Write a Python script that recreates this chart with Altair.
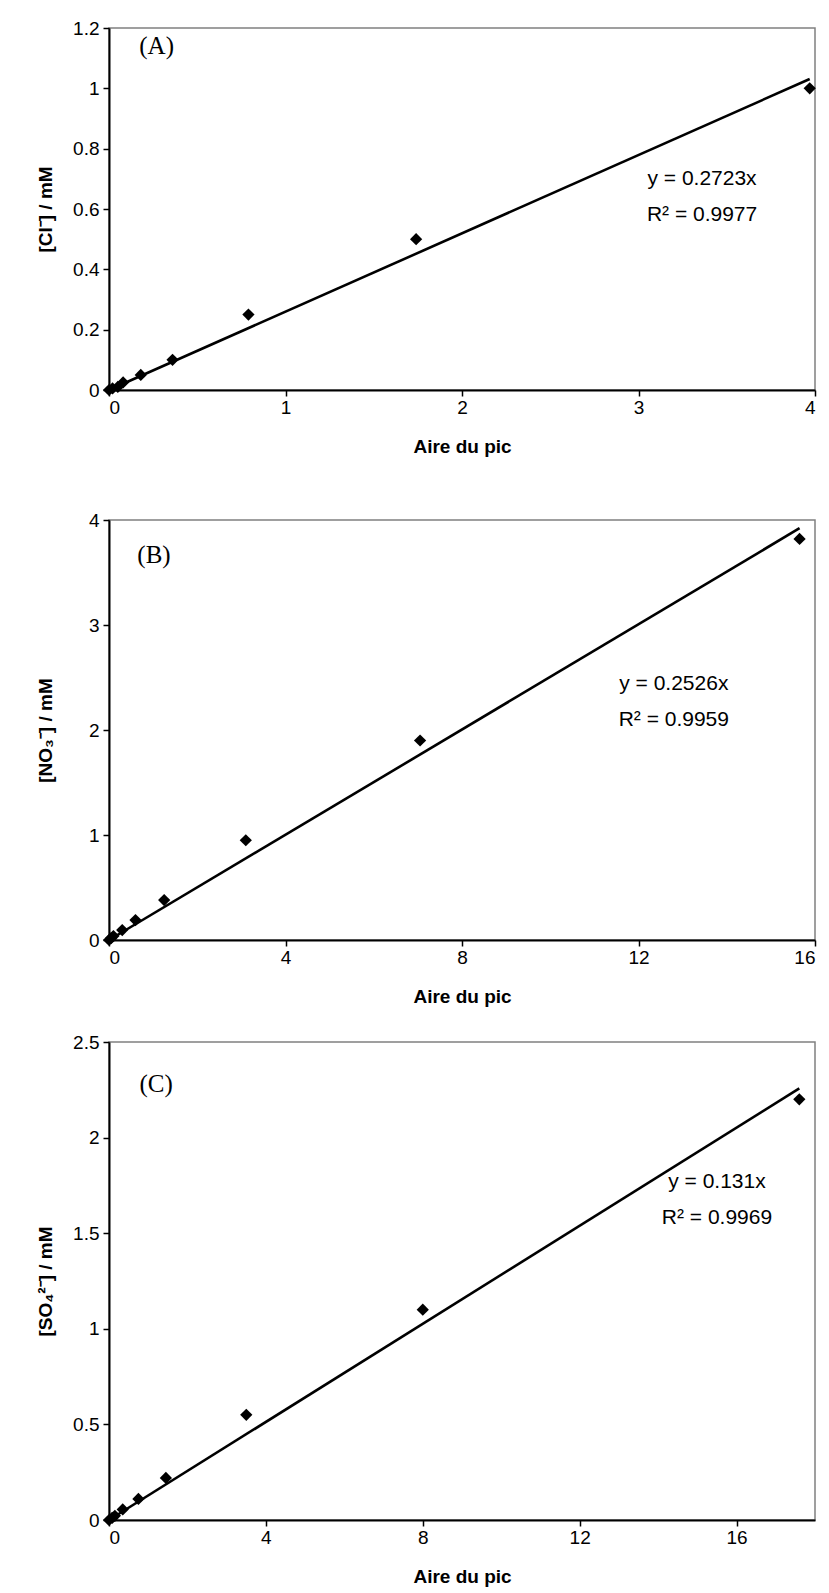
import altair as alt
import pandas as pd
import numpy as np

# ---- data ----
a_x = [0, 0.02, 0.05, 0.08, 0.18, 0.36, 0.79, 1.74, 3.97]
a_y = [0, 0.005, 0.01, 0.025, 0.05, 0.10, 0.25, 0.50, 1.00]
b_x = [0, 0.05, 0.10, 0.30, 0.60, 1.25, 3.10, 7.05, 15.65]
b_y = [0, 0.019, 0.038, 0.095, 0.19, 0.38, 0.95, 1.90, 3.82]
c_x = [0, 0.08, 0.15, 0.35, 0.75, 1.45, 3.50, 8.00, 17.60]
c_y = [0, 0.011, 0.022, 0.055, 0.11, 0.22, 0.55, 1.10, 2.20]

a_xticks = [0, 1, 2, 3, 4]
a_yticks = [0, 0.2, 0.4, 0.6, 0.8, 1.0, 1.2]
b_xticks = [0, 4, 8, 12, 16]
b_yticks = [0, 1, 2, 3, 4]
c_xticks = [0, 4, 8, 12, 16]
c_yticks = [0, 0.5, 1, 1.5, 2, 2.5]

titles_y = ["[Cl\u207b] / mM", "[NO\u2083\u207b] / mM", "[SO\u2084\u00b2\u207b] / mM"]
panel_labels = ["(A)", "(B)", "(C)"]
eq_lines = [["y = 0.2723x", "R\u00b2 = 0.9977"],
            ["y = 0.2526x", "R\u00b2 = 0.9959"],
            ["y = 0.131x", "R\u00b2 = 0.9969"]]
# annotation anchors in data units
label_pos = [(0.27, 1.14), (1.02, 3.67), (1.2, 2.28)]
eq_pos = [(3.36, 0.70, 0.58), (12.8, 2.44, 2.10), (15.5, 1.77, 1.58)]

FONT = "Liberation Sans"


def panel(xs, ys, xdom, xticks, ydom, yticks, ytitle, lbl, eqs, lpos, epos, h):
    df = pd.DataFrame({"x": xs, "y": ys})
    xa = np.array(xs)
    ya = np.array(ys)
    k = float(np.dot(xa, ya) / np.dot(xa, xa))
    line_df = pd.DataFrame({"x": [0, xa.max()], "y": [0, k * xa.max()]})
    xs_ = alt.Scale(domain=xdom, nice=False, zero=True)
    ys_ = alt.Scale(domain=ydom, nice=False, zero=True)
    xenc = alt.X("x:Q", scale=xs_, axis=alt.Axis(values=xticks, format="~g", title="Aire du pic"))
    yenc = alt.Y("y:Q", scale=ys_, axis=alt.Axis(values=yticks, format="~g", title=ytitle))

    pts = alt.Chart(df).mark_point(shape="diamond", filled=True, color="black",
                                   size=150, opacity=1).encode(x=xenc, y=yenc)
    ln = alt.Chart(line_df).mark_line(color="black", strokeWidth=2.6).encode(x=xenc, y=yenc)

    lab_df = pd.DataFrame({"x": [lpos[0]], "y": [lpos[1]], "t": [lbl]})
    lab = alt.Chart(lab_df).mark_text(font="Liberation Serif", fontSize=25, color="black",
                                      align="center", baseline="middle").encode(
        x=alt.X("x:Q", scale=xs_), y=alt.Y("y:Q", scale=ys_), text="t:N")

    eq_df = pd.DataFrame({"x": [epos[0], epos[0]], "y": [epos[1], epos[2]], "t": eqs})
    eq = alt.Chart(eq_df).mark_text(font=FONT, fontSize=21, color="black",
                                    align="center", baseline="middle").encode(
        x=alt.X("x:Q", scale=xs_), y=alt.Y("y:Q", scale=ys_), text="t:N")

    return alt.layer(ln, pts, lab, eq).properties(width=706, height=h)


A = panel(a_x, a_y, [0, 4], a_xticks, [0, 1.2], a_yticks, titles_y[0], panel_labels[0],
          eq_lines[0], label_pos[0], eq_pos[0], 362)
B = panel(b_x, b_y, [0, 16], b_xticks, [0, 4], b_yticks, titles_y[1], panel_labels[1],
          eq_lines[1], label_pos[1], eq_pos[1], 420)
C = panel(c_x, c_y, [0, 18], c_xticks, [0, 2.5], c_yticks, titles_y[2], panel_labels[2],
          eq_lines[2], label_pos[2], eq_pos[2], 478)

chart = alt.vconcat(alt.vconcat(A, B, spacing=53), C, spacing=25).properties(
    padding={"top": 10, "left": 27, "right": 0, "bottom": 0}
).configure_view(stroke="#808080", strokeWidth=1.5).configure_axis(
    grid=False, domainColor="black", domainWidth=2, tickColor="black", tickWidth=1.5,
    tickSize=6, labelFont=FONT, labelFontSize=19, labelColor="black", labelPadding=4,
    titleFont=FONT, titleFontSize=19, titleFontWeight="bold", titleColor="black",
    minExtent=42, maxExtent=42, titlePadding=12
).configure_axisX(labelPadding=2, titlePadding=22, minExtent=25, maxExtent=25)

chart.save("out.html", embed_options={"renderer": "svg", "actions": False})
